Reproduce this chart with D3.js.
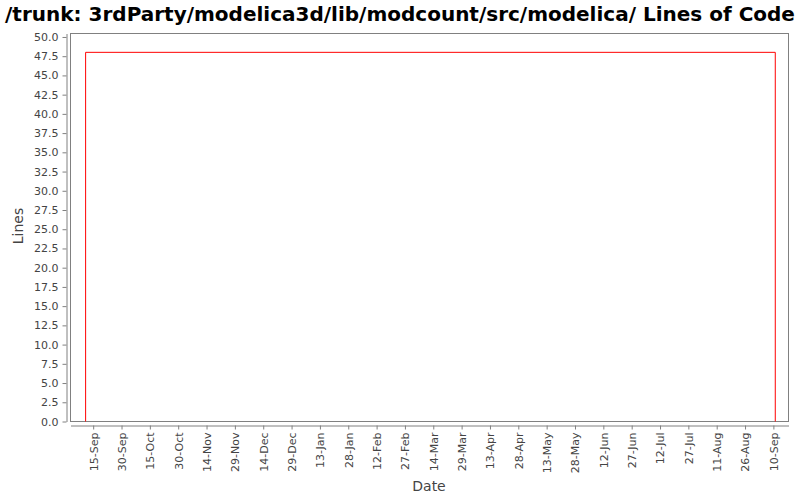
<!DOCTYPE html>
<html><head><meta charset="utf-8">
<script src="https://cdn.jsdelivr.net/npm/d3@7"></script>
<style>body{margin:0;background:#fff}svg{display:block}</style>
</head><body>
<svg id="c" width="800" height="500"></svg>
<script>
const title = "/trunk: 3rdParty/modelica3d/lib/modcount/src/modelica/ Lines of Code";
const dates = ["2009-09-11", "2009-09-11", "2010-09-11", "2010-09-11"];
const lines = [0, 48, 48, 0];
const tickLabels = ["15-Sep","30-Sep","15-Oct","30-Oct","14-Nov","29-Nov","14-Dec","29-Dec","13-Jan","28-Jan","12-Feb","27-Feb","14-Mar","29-Mar","13-Apr","28-Apr","13-May","28-May","12-Jun","27-Jun","12-Jul","27-Jul","11-Aug","26-Aug","10-Sep"];
const tickDates = ["2009-09-15","2009-09-30","2009-10-15","2009-10-30","2009-11-14","2009-11-29","2009-12-14","2009-12-29","2010-01-13","2010-01-28","2010-02-12","2010-02-27","2010-03-14","2010-03-29","2010-04-13","2010-04-28","2010-05-13","2010-05-28","2010-06-12","2010-06-27","2010-07-12","2010-07-27","2010-08-11","2010-08-26","2010-09-10"];
const yTicks = d3.range(0, 50.01, 2.5);

const parse = d3.timeParse("%Y-%m-%d");
const svg = d3.select("#c");
const L = 70.5, R = 788.5, T = 33.5, B = 421.5;
const x = d3.scaleTime().domain([parse("2009-09-03"), parse("2010-09-18")]).range([L, R]);
const y = d3.scaleLinear().domain([0, 50.45]).range([B, T]);

svg.append("text").attr("x", 400).attr("y", 21).attr("text-anchor", "middle")
  .attr("font-family", "DejaVu Sans").attr("font-weight", "bold").attr("font-size", 20)
  .attr("fill", "#000").text(title);

svg.append("rect").attr("x", L).attr("y", T).attr("width", R - L).attr("height", B - T)
  .attr("fill", "#fff").attr("stroke", "#808080").attr("stroke-width", 1);

const gy = svg.append("g").attr("transform", `translate(${L - 4},0)`)
  .call(d3.axisLeft(y).tickValues(yTicks).tickFormat(d3.format(".1f")).tickSize(4).tickSizeOuter(0).tickPadding(4));
const gx = svg.append("g").attr("transform", `translate(0,${B + 4})`)
  .call(d3.axisBottom(x).tickValues(tickDates.map(parse)).tickFormat((d, i) => tickLabels[i]).tickSize(4).tickSizeOuter(0).tickPadding(2));
[gy, gx].forEach(g => {
  g.select(".domain").attr("stroke", "#808080");
  g.selectAll(".tick line").attr("stroke", "#808080");
  g.selectAll(".tick text").attr("fill", "#444").attr("font-family", "DejaVu Sans").attr("font-size", 11);
});
gx.selectAll(".tick text").attr("transform", "rotate(-90)").attr("text-anchor", "end")
  .attr("x", -7).attr("y", 0).attr("dy", "0.35em");

const line = d3.line().x((d, i) => x(parse(dates[i]))).y(d => y(d));
svg.append("path").datum(lines).attr("d", line).attr("fill", "none").attr("stroke", "#ff0000").attr("stroke-width", 1);

svg.append("text").attr("transform", "translate(23,226) rotate(-90)").attr("text-anchor", "middle")
  .attr("font-family", "DejaVu Sans").attr("font-size", 14).attr("fill", "#444").text("Lines");
svg.append("text").attr("x", 429).attr("y", 491).attr("text-anchor", "middle")
  .attr("font-family", "DejaVu Sans").attr("font-size", 14).attr("fill", "#444").text("Date");
</script>
</body></html>
